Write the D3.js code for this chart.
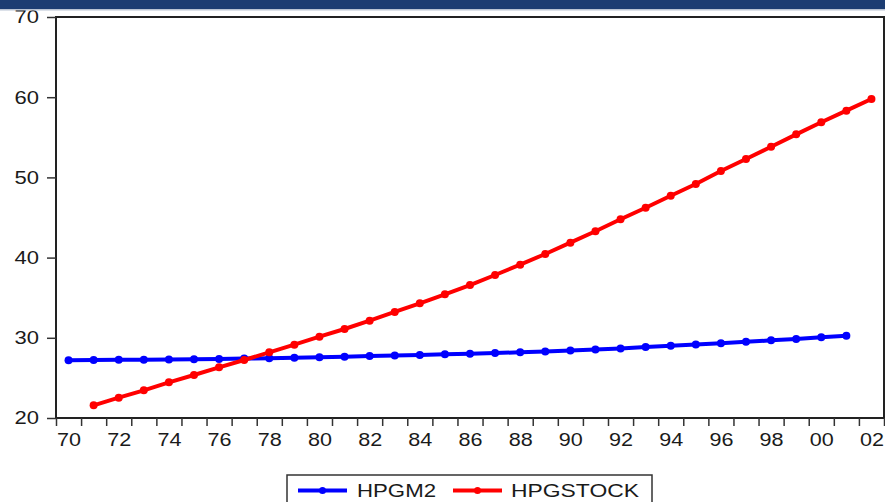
<!DOCTYPE html>
<html>
<head>
<meta charset="utf-8">
<script src="https://cdn.jsdelivr.net/npm/d3@7"></script>
<style>
  html, body { margin: 0; padding: 0; background: #ffffff; overflow: hidden; }
  svg { display: block; }
  text { font-family: "Liberation Sans", Arial, sans-serif; fill: #1a1a1a; }
</style>
</head>
<body>
<script>
// ---- data ----
const yearsM2 = d3.range(1970, 2002);     // 1970..2001
const hpgm2 = [27.20, 27.22, 27.25, 27.27, 27.30, 27.33, 27.37, 27.41, 27.46, 27.52,
               27.58, 27.65, 27.72, 27.78, 27.86, 27.94, 28.02, 28.10, 28.19, 28.30,
               28.42, 28.55, 28.68, 28.84, 29.00, 29.17, 29.33, 29.50, 29.68, 29.86,
               30.06, 30.26];
const yearsStock = d3.range(1971, 2003);  // 1971..2002
const hpgstock = [21.58, 22.53, 23.45, 24.45, 25.36, 26.32, 27.23, 28.19, 29.14, 30.14,
                  31.10, 32.13, 33.22, 34.30, 35.42, 36.58, 37.83, 39.12, 40.45, 41.86,
                  43.28, 44.78, 46.22, 47.72, 49.18, 50.80, 52.29, 53.83, 55.37, 56.87,
                  58.32, 59.78];
const xLabelYears = d3.range(1970, 2003, 2);
const xTickLabels = ["70","72","74","76","78","80","82","84","86","88","90","92","94","96","98","00","02"];
const yTicks = [20, 30, 40, 50, 60, 70];
const seriesNames = ["HPGM2", "HPGSTOCK"];
const seriesColors = ["#0000ff", "#ff0000"];

// ---- layout ----
const W = 885, H = 502;
const pL = 56, pR = 884, pT = 17, pB = 418;

const svg = d3.select("body").append("svg").attr("width", W).attr("height", H);

const x = d3.scaleLinear().domain([1970, 2003]).range([pL, pR]);
const y = d3.scaleLinear().domain([20, 70]).range([pB, pT]);

// frame
svg.append("rect")
  .attr("x", pL).attr("y", pT)
  .attr("width", pR - pL).attr("height", pB - pT)
  .attr("fill", "none").attr("stroke", "#222").attr("stroke-width", 2);

// y axis
const yAxis = svg.append("g").attr("transform", `translate(${pL},0)`)
  .call(d3.axisLeft(y).tickValues(yTicks).tickSize(9).tickSizeOuter(0).tickPadding(8).tickFormat(d3.format("d")));
yAxis.select(".domain").remove();
yAxis.selectAll(".tick line").attr("stroke", "#333").attr("stroke-width", 1.5);
yAxis.selectAll(".tick text")
  .style("font-size", "18.5px").attr("fill", "#1a1a1a")
  .attr("textLength", 24.5).attr("lengthAdjust", "spacingAndGlyphs");

// x axis: tick marks at year boundaries
const xTicks = svg.append("g").attr("transform", `translate(0,${pB})`)
  .call(d3.axisBottom(x).tickValues(d3.range(1970, 2004)).tickSize(8).tickSizeOuter(0).tickFormat(""));
xTicks.select(".domain").remove();
xTicks.selectAll(".tick line").attr("stroke", "#333").attr("stroke-width", 1.5);

// x axis: labels at mid-year
const xLab = svg.append("g").attr("transform", `translate(0,${pB})`)
  .call(d3.axisBottom(x).tickValues(xLabelYears.map(d => d + 0.5)).tickSize(0).tickPadding(15)
    .tickFormat((d, i) => xTickLabels[i]));
xLab.select(".domain").remove();
xLab.selectAll(".tick text")
  .style("font-size", "18.5px").attr("fill", "#1a1a1a")
  .attr("textLength", 24).attr("lengthAdjust", "spacingAndGlyphs");

// series
const series = [
  { name: seriesNames[0], color: seriesColors[0], data: yearsM2.map((yr, i) => ({ yr, v: hpgm2[i] })) },
  { name: seriesNames[1], color: seriesColors[1], data: yearsStock.map((yr, i) => ({ yr, v: hpgstock[i] })) }
];
const line = d3.line().x(d => x(d.yr + 0.5)).y(d => y(d.v));

series.forEach(s => {
  svg.append("path").datum(s.data)
    .attr("d", line).attr("fill", "none")
    .attr("stroke", s.color).attr("stroke-width", 4).attr("stroke-linejoin", "round");
  svg.append("g").selectAll("circle").data(s.data).join("circle")
    .attr("cx", d => x(d.yr + 0.5)).attr("cy", d => y(d.v))
    .attr("r", 4).attr("fill", s.color);
});

// top banner
svg.append("rect").attr("x", 0).attr("y", 0).attr("width", W).attr("height", 9).attr("fill", "#1c3c72");
svg.append("rect").attr("x", 0).attr("y", 9).attr("width", W).attr("height", 1.5).attr("fill", "#b9c3d3");

// legend
const lg = svg.append("g");
lg.append("rect").attr("x", 287).attr("y", 475).attr("width", 365).attr("height", 40)
  .attr("fill", "#fff").attr("stroke", "#333").attr("stroke-width", 1.5);
const legendItems = [
  { x0: 298, x1: 347, tx: 357, tw: 79, name: seriesNames[0], color: seriesColors[0] },
  { x0: 453, x1: 502, tx: 511, tw: 128, name: seriesNames[1], color: seriesColors[1] }
];
legendItems.forEach(it => {
  lg.append("line").attr("x1", it.x0).attr("x2", it.x1).attr("y1", 490.5).attr("y2", 490.5)
    .attr("stroke", it.color).attr("stroke-width", 4);
  lg.append("circle").attr("cx", (it.x0 + it.x1) / 2).attr("cy", 490.5).attr("r", 3.5).attr("fill", it.color);
  lg.append("text").attr("x", it.tx).attr("y", 497).text(it.name)
    .style("font-size", "18.5px")
    .attr("textLength", it.tw).attr("lengthAdjust", "spacingAndGlyphs");
});
</script>
</body>
</html>
